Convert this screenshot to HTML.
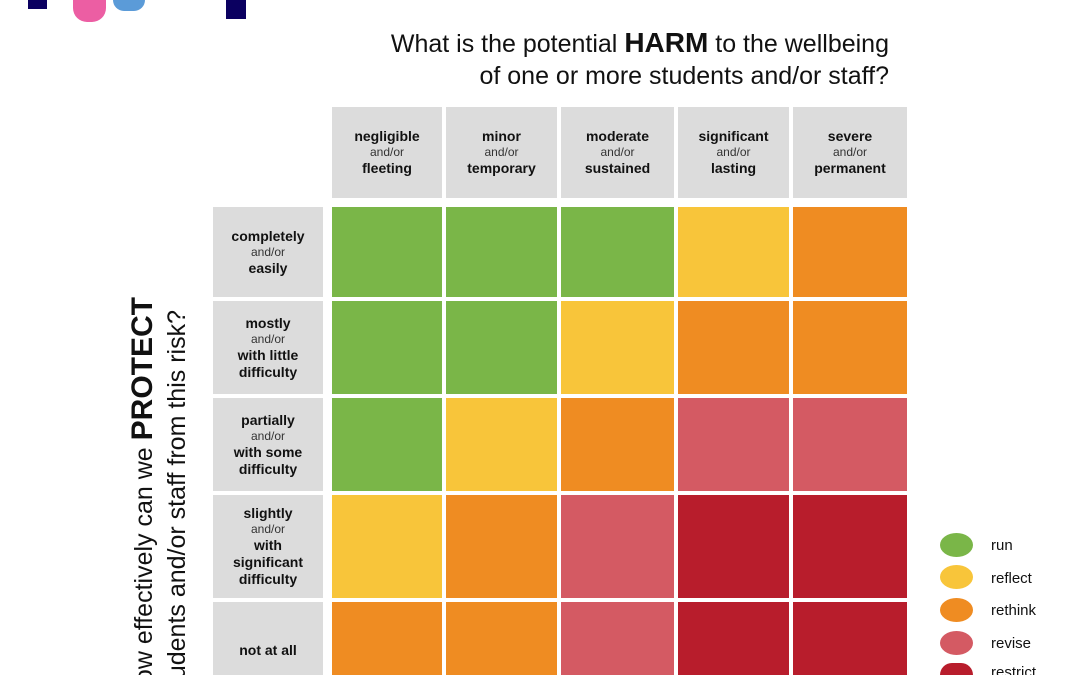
<!DOCTYPE html>
<html><head><meta charset="utf-8"><style>
html,body{margin:0;width:1080px;height:675px;overflow:hidden;background:#fff}
body{position:relative;font-family:"Liberation Sans","DejaVu Sans",sans-serif;color:#111}
.a{position:absolute}
.c{position:absolute;display:flex;align-items:center;justify-content:center;text-align:center;flex-direction:column}
.h{background:#dcdcdc;font-size:14px;font-weight:bold;line-height:17px}
.h span{font-weight:normal;font-size:12px;color:#333;line-height:15px}
.G{background:#7ab648}.Y{background:#f8c53a}.O{background:#ef8c22}.P{background:#d45a63}.R{background:#b81d2c}
.dot{position:absolute;left:940px;width:33px;height:24px;border-radius:50%}
.lt{position:absolute;left:991px;font-size:15px}
#clip{position:absolute;left:0;top:0;width:1080px;height:675px;overflow:hidden}
</style></head><body><div id="clip">
<div class="a" style="left:28px;top:0;width:19px;height:9px;background:#0b0060"></div>
<div class="a" style="left:73px;top:0;width:33px;height:22px;background:#ec5ea3;border-radius:0 0 14px 14px"></div>
<div class="a" style="left:113px;top:0;width:32px;height:11px;background:#5b9bd8;border-radius:0 0 16px 16px"></div>
<div class="a" style="left:226px;top:0;width:20px;height:19px;background:#0b0060"></div>

<div class="a" style="right:191px;top:27px;font-size:25px;text-align:right;line-height:32px;white-space:nowrap">What is the potential <b style="font-size:28px">HARM</b> to the wellbeing<br>of one or more students and/or staff?</div>

<svg class="a" style="left:110px;top:0" width="90" height="675" viewBox="0 0 90 675">
<g transform="rotate(-90)" font-family="Liberation Sans, DejaVu Sans, sans-serif" fill="#111">
<text x="-297" y="42" text-anchor="end" font-size="25">How effectively can we <tspan font-weight="bold" font-size="30">PROTECT</tspan></text>
<text x="-310" y="75" text-anchor="end" font-size="25">students and/or staff from this risk?</text>
</g></svg>

<div class="c h" style="left:332px;top:107px;width:110px;height:91px">negligible<span>and/or</span>fleeting</div>
<div class="c h" style="left:446px;top:107px;width:111px;height:91px">minor<span>and/or</span>temporary</div>
<div class="c h" style="left:561px;top:107px;width:113px;height:91px">moderate<span>and/or</span>sustained</div>
<div class="c h" style="left:678px;top:107px;width:111px;height:91px">significant<span>and/or</span>lasting</div>
<div class="c h" style="left:793px;top:107px;width:114px;height:91px">severe<span>and/or</span>permanent</div>

<div class="c h" style="left:213px;top:207px;width:110px;height:90px">completely<span>and/or</span>easily</div>
<div class="c h" style="left:213px;top:301px;width:110px;height:93px">mostly<span>and/or</span>with little<br>difficulty</div>
<div class="c h" style="left:213px;top:398px;width:110px;height:93px">partially<span>and/or</span>with some<br>difficulty</div>
<div class="c h" style="left:213px;top:495px;width:110px;height:103px">slightly<span>and/or</span>with<br>significant<br>difficulty</div>
<div class="c h" style="left:213px;top:602px;width:110px;height:49px;padding-top:24px">not at all</div>

<div class="a G" style="left:332px;top:207px;width:110px;height:90px"></div>
<div class="a G" style="left:446px;top:207px;width:111px;height:90px"></div>
<div class="a G" style="left:561px;top:207px;width:113px;height:90px"></div>
<div class="a Y" style="left:678px;top:207px;width:111px;height:90px"></div>
<div class="a O" style="left:793px;top:207px;width:114px;height:90px"></div>

<div class="a G" style="left:332px;top:301px;width:110px;height:93px"></div>
<div class="a G" style="left:446px;top:301px;width:111px;height:93px"></div>
<div class="a Y" style="left:561px;top:301px;width:113px;height:93px"></div>
<div class="a O" style="left:678px;top:301px;width:111px;height:93px"></div>
<div class="a O" style="left:793px;top:301px;width:114px;height:93px"></div>

<div class="a G" style="left:332px;top:398px;width:110px;height:93px"></div>
<div class="a Y" style="left:446px;top:398px;width:111px;height:93px"></div>
<div class="a O" style="left:561px;top:398px;width:113px;height:93px"></div>
<div class="a P" style="left:678px;top:398px;width:111px;height:93px"></div>
<div class="a P" style="left:793px;top:398px;width:114px;height:93px"></div>

<div class="a Y" style="left:332px;top:495px;width:110px;height:103px"></div>
<div class="a O" style="left:446px;top:495px;width:111px;height:103px"></div>
<div class="a P" style="left:561px;top:495px;width:113px;height:103px"></div>
<div class="a R" style="left:678px;top:495px;width:111px;height:103px"></div>
<div class="a R" style="left:793px;top:495px;width:114px;height:103px"></div>

<div class="a O" style="left:332px;top:602px;width:110px;height:73px"></div>
<div class="a O" style="left:446px;top:602px;width:111px;height:73px"></div>
<div class="a P" style="left:561px;top:602px;width:113px;height:73px"></div>
<div class="a R" style="left:678px;top:602px;width:111px;height:73px"></div>
<div class="a R" style="left:793px;top:602px;width:114px;height:73px"></div>

<div class="dot G" style="top:533px"></div><div class="lt" style="top:537px">run</div>
<div class="dot Y" style="top:565px"></div><div class="lt" style="top:570px">reflect</div>
<div class="dot O" style="top:598px"></div><div class="lt" style="top:602px">rethink</div>
<div class="dot P" style="top:631px"></div><div class="lt" style="top:635px">revise</div>
<div class="a R" style="left:940px;top:663px;width:33px;height:12px;border-radius:16px 16px 0 0"></div>
<div class="a" style="left:991px;top:664px;width:60px;height:11px;overflow:hidden;font-size:15px;line-height:18px">restrict</div>
</div></body></html>
